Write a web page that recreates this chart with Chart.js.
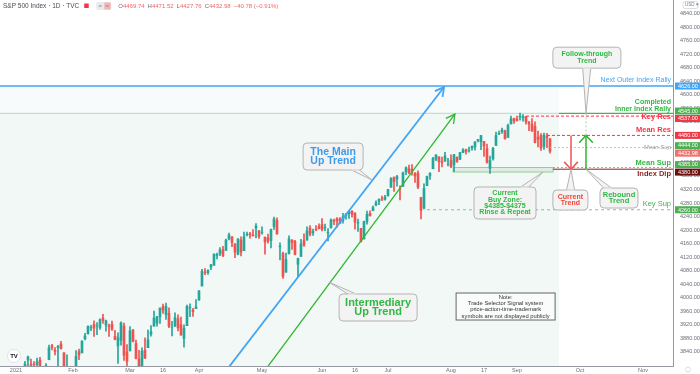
<!DOCTYPE html>
<html>
<head>
<meta charset="utf-8">
<script src="https://cdn.jsdelivr.net/npm/chart.js@4.4.1/dist/chart.umd.min.js"></script>
<style>
  html, body { margin:0; padding:0; background:#fff; }
  canvas { display:block; }
</style>
</head>
<body>
<canvas id="grafico" width="700" height="374"></canvas>
<script>
// S&P 500 Index, daily candles from 2021-01-04 to 2021-09-17 (x = trading day index)
var opens = [
  3764.6,3698.0,3712.2,3764.7,3815.1,3803.1,3801.6,3802.2,3815.0,3788.7,3781.9,3816.2,3857.5,3844.2,3851.7,3863.0,3836.8,3755.8,3778.1,
  3731.2,3791.8,3840.3,3836.7,3878.3,3892.6,3910.5,3920.8,3916.4,3911.7,3939.6,3918.5,3915.9,3921.2,3885.6,3857.1,3873.7,3915.8,3839.7,
  3842.5,3903.6,3864.0,3818.5,3793.6,3844.4,3851.9,3892.0,3915.5,3924.5,3943.0,3973.6,3949.6,3953.5,3913.1,3916.5,3937.6,3919.9,3879.3,3917.1,3969.3,3963.3,3967.3,
  3992.8,4034.4,4075.6,4074.3,4090.0,4096.1,4124.7,4130.1,4141.6,4139.8,4174.1,4179.8,4159.2,4128.4,4170.5,4138.8,4185.0,4188.3,4185.1,4206.1,4198.1,
  4192.0,4179.0,4177.1,4169.1,4210.3,4228.3,4150.3,4130.6,4075.0,4129.6,4169.9,4165.9,4098.5,4122.0,4168.6,4170.2,4205.9,4191.6,4201.9,4210.8,
  4216.5,4206.8,4191.4,4206.1,4229.3,4233.8,4233.0,4228.6,4242.9,4248.3,4255.3,4248.9,4220.4,4204.8,4173.4,4224.6,4249.3,4257.0,4274.5,4284.9,4293.2,4290.7,
  4300.7,4326.6,4356.5,4351.0,4321.1,4329.4,4372.4,4381.1,4380.1,4369.0,4367.4,4296.4,4265.1,4331.1,4361.3,4381.2,4409.6,4416.4,4403.0,4403.6,4395.1,
  4406.9,4392.7,4416.0,4408.9,4429.1,4437.8,4435.8,4442.2,4446.1,4464.8,4461.7,4462.1,4440.9,4382.4,4410.6,4450.3,4484.4,4490.5,4493.8,4474.1,4513.8,4529.8,
  4528.8,4534.5,4532.4,4535.4,4518.1,4513.0,4506.9,4474.8,4479.3,4447.5,4477.1,4469.74
];
var highs = [
  3770.0,3737.8,3783.0,3811.6,3826.7,3817.9,3810.8,3821.0,3823.6,3788.7,3804.5,3859.8,3861.5,3852.3,3859.2,3870.9,3836.8,3830.5,3778.1,
  3784.3,3843.1,3847.5,3872.4,3894.6,3915.8,3918.4,3931.5,3926.0,3937.2,3950.4,3933.6,3922.0,3930.4,3902.9,3896.0,3928.7,3925.0,3861.1,
  3914.5,3906.4,3874.5,3843.7,3851.7,3881.1,3903.8,3917.4,3960.3,3945.0,3970.1,3981.0,3983.9,3969.6,3930.1,3955.3,3949.1,3942.1,3919.5,3978.2,3981.8,3968.0,3994.4,
  4020.6,4083.4,4086.2,4083.1,4098.2,4129.5,4131.8,4148.0,4151.7,4173.5,4191.3,4180.8,4159.2,4175.0,4179.6,4194.2,4194.2,4193.4,4201.5,4218.8,4198.1,
  4209.4,4179.0,4187.7,4202.7,4238.0,4236.4,4162.0,4134.7,4131.6,4183.1,4171.9,4169.2,4116.9,4172.8,4188.7,4209.5,4213.4,4202.6,4213.4,4218.4,
  4234.1,4217.4,4204.4,4233.5,4232.3,4236.7,4237.1,4249.7,4248.4,4255.6,4257.2,4251.9,4232.3,4204.8,4226.2,4255.8,4256.6,4271.3,4286.1,4292.1,4300.5,4302.4,
  4320.7,4355.4,4356.5,4361.9,4330.9,4371.6,4386.7,4392.4,4393.7,4369.0,4375.1,4296.4,4336.8,4359.7,4369.9,4415.2,4422.7,4416.4,4415.5,4430.0,4412.3,
  4422.2,4423.8,4416.2,4429.8,4440.8,4439.4,4445.2,4449.4,4461.8,4468.4,4480.3,4462.1,4454.3,4418.6,4444.4,4489.9,4492.8,4501.7,4495.9,4513.3,4537.4,4531.4,
  4537.1,4545.9,4541.5,4535.4,4521.8,4529.9,4520.5,4493.0,4485.7,4486.9,4485.9,4471.52
];
var lows = [
  3662.7,3695.1,3705.3,3764.7,3783.6,3789.0,3776.5,3791.5,3792.9,3749.6,3780.4,3816.2,3845.1,3830.4,3797.2,3847.8,3732.5,3755.8,3694.1,
  3725.6,3791.8,3816.7,3836.7,3874.9,3892.6,3902.6,3884.9,3890.4,3905.8,3923.9,3900.4,3885.0,3903.1,3874.7,3805.6,3859.6,3814.0,3789.5,
  3842.5,3868.6,3818.9,3723.3,3730.2,3819.3,3851.9,3885.7,3915.5,3915.2,3923.5,3953.4,3935.7,3910.9,3886.8,3914.2,3901.6,3889.1,3853.5,3917.1,3943.3,3944.4,3967.0,
  3992.8,4034.4,4068.1,4068.3,4082.5,4095.5,4114.8,4124.4,4120.9,4139.8,4170.8,4150.5,4118.4,4126.4,4123.7,4138.8,4182.4,4176.2,4181.8,4176.8,4174.9,
  4188.0,4128.6,4160.9,4147.3,4201.6,4188.1,4111.5,4056.9,4075.0,4129.6,4142.7,4126.0,4061.4,4122.0,4151.7,4170.2,4182.5,4184.1,4197.8,4203.6,
  4197.6,4198.3,4167.9,4206.1,4215.7,4208.4,4218.7,4220.3,4232.3,4234.1,4238.4,4202.5,4196.1,4164.4,4173.4,4217.3,4241.4,4257.0,4271.2,4274.7,4287.0,4288.0,
  4300.7,4326.6,4314.4,4329.8,4289.4,4329.4,4364.0,4366.9,4362.4,4340.7,4322.5,4233.1,4262.1,4331.1,4350.1,4381.2,4405.5,4372.5,4387.0,4403.6,4389.7,
  4384.8,4373.0,4400.2,4408.9,4429.1,4424.7,4430.0,4436.4,4436.0,4460.8,4437.7,4417.8,4397.6,4367.7,4406.8,4450.3,4482.3,4485.7,4469.0,4474.1,4513.8,4515.8,
  4522.0,4524.7,4521.9,4513.0,4494.0,4492.1,4457.7,4445.7,4435.5,4438.4,4443.8,4427.76
];
var closes = [
  3700.7,3726.9,3748.1,3803.8,3824.7,3799.6,3801.2,3809.8,3795.5,3768.3,3798.9,3851.9,3853.1,3841.5,3855.4,3849.6,3750.8,3787.4,3714.2,
  3773.9,3826.3,3830.2,3871.7,3886.8,3915.6,3911.2,3909.9,3916.4,3934.8,3932.6,3931.3,3914.0,3906.7,3876.5,3881.4,3925.4,3829.3,3811.2,
  3901.8,3870.3,3819.7,3768.5,3841.9,3821.4,3875.4,3898.8,3939.3,3943.3,3968.9,3962.7,3974.1,3915.5,3913.1,3940.6,3910.5,3889.1,3909.5,3974.5,3971.1,3958.6,3972.9,
  4019.9,4077.9,4073.9,4080.0,4097.2,4128.8,4128.0,4141.6,4124.7,4170.4,4185.5,4163.3,4134.9,4173.4,4135.0,4180.2,4187.6,4186.7,4183.2,4211.5,4181.2,
  4192.7,4164.7,4167.6,4201.6,4232.6,4188.4,4152.1,4063.0,4112.5,4173.9,4163.3,4127.8,4115.7,4159.1,4155.9,4197.1,4188.1,4196.0,4200.9,4204.1,
  4202.0,4208.1,4192.9,4229.9,4226.5,4227.3,4219.6,4239.2,4247.4,4255.2,4246.6,4223.7,4221.9,4166.5,4224.8,4246.4,4241.8,4266.5,4280.7,4290.6,4291.8,4297.5,
  4319.9,4352.3,4343.5,4358.1,4320.8,4369.6,4384.6,4369.2,4374.3,4360.0,4327.2,4258.5,4323.1,4358.7,4367.5,4411.8,4422.3,4401.5,4400.6,4419.2,4395.3,
  4387.2,4423.2,4402.7,4429.1,4436.5,4432.4,4436.8,4447.7,4460.8,4468.0,4479.7,4448.1,4400.3,4405.8,4441.7,4479.5,4486.2,4496.2,4470.0,4509.4,4528.8,4522.7,
  4524.1,4537.0,4535.4,4520.0,4514.1,4493.3,4458.6,4468.7,4443.1,4480.7,4473.76,4432.98
];

// time axis labels (trading day index of each label)
var tickIdx  = [0, 19, 38, 49, 61, 82, 102, 113, 124, 145, 156, 167, 188, 209];
var tickText = ['2021','Feb','Mar','16','Apr','May','Jun','16','Jul','Aug','17','Sep','Oct','Nov'];
var priceTicks = [3840,3880,3920,3960,4000,4040,4080,4120,4160,4200,4240,4280,4320,4360,4400,
                  4440,4480,4520,4560,4600,4640,4680,4720,4760,4800,4840];

// drawn levels
var levelValues = [4626, 4545, 4537, 4480, 4444, 4385, 4380, 4260];
var levelNames  = [['Next Outer Index Rally'], ['Completed','Inner Index Rally'], ['Key Res'], ['Mean Res'],
                   ['Mean Sup'], ['Mean Sup'], ['Index Dip'], ['Key Sup']];
var buyZone = [4371.6, 4385];

// trend lines [index, price]
var mainTrend  = [[69.7, 3780], [142.7, 4623]];
var interTrend = [[82.6, 3780], [146.3, 4543]];

var FONT = '"Liberation Sans", Arial, sans-serif';
var UP = '#26a69a', DOWN = '#ef5350';

var wicks = [], bodies = [], colores = [];
for (var i = 0; i < closes.length; i++) {
  wicks.push({x: i, y: [lows[i], highs[i]]});
  bodies.push({x: i, y: [opens[i], closes[i]]});
  colores.push(closes[i] >= opens[i] ? UP : DOWN);
}

// styles for levels (same order as levelValues)
var levelStyle = [
  {from:-6,  color:'#42a5f5', lw:1.5, dash:[],    tc:'#42a5f5', font:'7px',          dy:-5.5, tag:'#42a5f5'},
  {from:181, color:'#4caf50', lw:1.2, dash:[],    tc:'#30b843', font:'bold 7px',     dy:-11.2, lh:6.4, tag:'#4caf50'},
  {from:170, color:'#f23645', lw:1,   dash:[3,2], tc:'#f23645', font:'bold 7.5px',   dy:0.5,  tag:'#f23645'},
  {from:177, color:'#f23645', lw:1,   dash:[3,2], tc:'#f23645', font:'bold 7.5px',   dy:-5.5, tag:'#f23645'},
  {from:178, color:'#a5d6a7', lw:1,   dash:[2,2], tc:'#9e9e9e', font:'italic 6px',   dy:0,    tag:'#4caf50'},
  {from:179, color:'#81c784', lw:1,   dash:[2,2], tc:'#30b843', font:'bold 7.5px',   dy:-5,   tag:'#4caf50'},
  {from:179, color:'#8b1e1e', lw:1,   dash:[],    tc:'#8b1e1e', font:'bold 7.5px',   dy:5,    tag:'#6d0f0f'},
  {from:137, color:'#81c784', lw:1,   dash:[3,3], tc:'#4caf50', font:'7.5px',        dy:-5.5, tag:'#4caf50'}
];

var callouts = [
  {x:190.3, y:4710,   w:68, h:21, tx:190,   ty:4545,   lines:['Follow-through','Trend'], color:'#30b843', size:7,    lh:6.7},
  {x:105.7, y:4417.5, w:60, h:27, tx:118.7, ty:4348,   lines:['The Main','Up Trend'],    color:'#3d9be9', size:10.5, lh:9.5},
  {x:120.7, y:3970.8, w:78, h:27, tx:104.3, ty:4046,   lines:['Intermediary','Up Trend'], color:'#30b843', size:11,  lh:9.5},
  {x:163,   y:4280,   w:62, h:32, tx:175.7, ty:4371.7, lines:['Current','Buy Zone:','$4385-$4375','Rinse & Repeat'], color:'#30b843', size:7, lh:6.3},
  {x:184.8, y:4288.8, w:35, h:20, tx:185,   ty:4380,   lines:['Current','Trend'],        color:'#f44336', size:7,    lh:6.3},
  {x:201,   y:4294.7, w:38, h:20, tx:190,   ty:4380,   lines:['Rebound','Trend'],        color:'#30b843', size:7.5,  lh:6.6}
];

function rrect(ctx, x, y, w, h, r) {
  ctx.beginPath();
  ctx.moveTo(x + r, y);
  ctx.lineTo(x + w - r, y); ctx.quadraticCurveTo(x + w, y, x + w, y + r);
  ctx.lineTo(x + w, y + h - r); ctx.quadraticCurveTo(x + w, y + h, x + w - r, y + h);
  ctx.lineTo(x + r, y + h); ctx.quadraticCurveTo(x, y + h, x, y + h - r);
  ctx.lineTo(x, y + r); ctx.quadraticCurveTo(x, y, x + r, y);
  ctx.closePath();
}

function arrowHead(ctx, x, y, ang, len, spread) {
  ctx.beginPath();
  ctx.moveTo(x + len * Math.cos(ang + Math.PI - spread), y + len * Math.sin(ang + Math.PI - spread));
  ctx.lineTo(x, y);
  ctx.lineTo(x + len * Math.cos(ang + Math.PI + spread), y + len * Math.sin(ang + Math.PI + spread));
  ctx.stroke();
}

var dibujos = {
  id: 'dibujos',
  beforeDatasetsDraw: function(chart) {
    var ctx = chart.ctx, a = chart.chartArea, X = chart.scales.x, Y = chart.scales.y;
    var xr = X.getPixelForValue(181);
    ctx.save();
    ctx.beginPath(); ctx.rect(a.left, a.top, a.right - a.left, a.bottom - a.top); ctx.clip();
    ctx.fillStyle = '#f8fbfc';
    ctx.fillRect(a.left, Y.getPixelForValue(levelValues[0]), xr - a.left, Y.getPixelForValue(levelValues[1]) - Y.getPixelForValue(levelValues[0]));
    ctx.fillStyle = '#f2f8f6';
    ctx.fillRect(a.left, Y.getPixelForValue(levelValues[1]), xr - a.left, a.bottom - Y.getPixelForValue(levelValues[1]));
    ctx.strokeStyle = '#c5e0c6'; ctx.lineWidth = 1.2;
    ctx.beginPath();
    ctx.moveTo(a.left, Y.getPixelForValue(levelValues[1])); ctx.lineTo(xr, Y.getPixelForValue(levelValues[1]));
    ctx.stroke();
    // buy zone
    var bx0 = X.getPixelForValue(145.7), bx1 = X.getPixelForValue(179);
    var by0 = Y.getPixelForValue(buyZone[1]), by1 = Y.getPixelForValue(buyZone[0]);
    ctx.fillStyle = 'rgba(220,228,222,0.7)';
    ctx.fillRect(bx0, by0, bx1 - bx0, by1 - by0);
    ctx.strokeStyle = '#8fd18f'; ctx.lineWidth = 1;
    ctx.strokeRect(bx0, by0, bx1 - bx0, by1 - by0);
    ctx.restore();
  },
  afterDatasetsDraw: function(chart) {
    var ctx = chart.ctx, a = chart.chartArea, X = chart.scales.x, Y = chart.scales.y;
    ctx.save();
    ctx.beginPath(); ctx.rect(a.left, a.top, a.right - a.left, a.bottom - a.top); ctx.clip();

    // horizontal levels with their texts
    levelValues.forEach(function(v, k) {
      var s = levelStyle[k], y = Y.getPixelForValue(v);
      ctx.strokeStyle = s.color; ctx.lineWidth = s.lw; ctx.setLineDash(s.dash);
      ctx.beginPath(); ctx.moveTo(Math.max(a.left, X.getPixelForValue(s.from)), y); ctx.lineTo(a.right, y); ctx.stroke();
      ctx.setLineDash([]);
      ctx.font = s.font + ' ' + FONT; ctx.fillStyle = s.tc;
      ctx.textAlign = 'right'; ctx.textBaseline = 'middle';
      levelNames[k].forEach(function(t, j) {
        ctx.fillText(t, a.right - 2, y + s.dy + j * (s.lh || 0));
      });
    });

    // arrowheads of the two trend lines
    [[mainTrend, '#42a5f5', 1.8], [interTrend, '#2eb82e', 1.3]].forEach(function(tl) {
      var p0 = tl[0][0], p1 = tl[0][1];
      var x0 = X.getPixelForValue(p0[0]), y0 = Y.getPixelForValue(p0[1]);
      var x1 = X.getPixelForValue(p1[0]), y1 = Y.getPixelForValue(p1[1]);
      ctx.strokeStyle = tl[1]; ctx.lineWidth = tl[2];
      arrowHead(ctx, x1, y1, Math.atan2(y1 - y0, x1 - x0), 10, 0.5);
    });

    // current trend (down) and rebound trend (up)
    var xr = X.getPixelForValue(185), xg = X.getPixelForValue(190);
    var yHi = Y.getPixelForValue(levelValues[3]), yLo = Y.getPixelForValue(levelValues[6]);
    var yTop = Y.getPixelForValue(levelValues[1]);
    ctx.lineWidth = 1.5;
    ctx.strokeStyle = '#ef5350';
    ctx.beginPath(); ctx.moveTo(xr, yHi); ctx.lineTo(xr, yLo); ctx.stroke();
    arrowHead(ctx, xr, yLo, Math.PI / 2, 10, 0.75);
    ctx.strokeStyle = '#2eb82e';
    ctx.beginPath(); ctx.moveTo(xg, yLo); ctx.lineTo(xg, yHi); ctx.stroke();
    arrowHead(ctx, xg, yHi, -Math.PI / 2, 10, 0.75);
    ctx.strokeStyle = '#a5d6a7'; ctx.lineWidth = 1; ctx.setLineDash([2, 2]);
    ctx.beginPath(); ctx.moveTo(xg, yHi); ctx.lineTo(xg, yTop); ctx.stroke();
    ctx.setLineDash([]);

    // callouts
    callouts.forEach(function(c) {
      var cx = X.getPixelForValue(c.x), cy = Y.getPixelForValue(c.y);
      var tx = X.getPixelForValue(c.tx), ty = Y.getPixelForValue(c.ty);
      var bx = cx - c.w / 2, by = cy - c.h / 2;
      var dx = tx - cx, dy = ty - cy, b1, b2;
      if (Math.abs(dy) / (c.h / 2) > Math.abs(dx) / (c.w / 2)) {
        var ey = dy > 0 ? by + c.h : by;
        var ex = cx + dx * (c.h / 2) / Math.abs(dy);
        ex = Math.min(Math.max(ex, bx + 7), bx + c.w - 7);
        b1 = [ex - 4, ey]; b2 = [ex + 4, ey];
      } else {
        var ex2 = dx > 0 ? bx + c.w : bx;
        var ey2 = cy + dy * (c.w / 2) / Math.abs(dx);
        ey2 = Math.min(Math.max(ey2, by + 5), by + c.h - 5);
        b1 = [ex2, ey2 - 4]; b2 = [ex2, ey2 + 4];
      }
      ctx.fillStyle = '#f3f3f3'; ctx.strokeStyle = '#b4b4b4'; ctx.lineWidth = 1;
      ctx.beginPath(); ctx.moveTo(b1[0], b1[1]); ctx.lineTo(tx, ty); ctx.lineTo(b2[0], b2[1]); ctx.closePath();
      ctx.fill(); ctx.stroke();
      rrect(ctx, bx, by, c.w, c.h, 4);
      ctx.fill(); ctx.stroke();
      ctx.beginPath(); ctx.moveTo(b1[0], b1[1]); ctx.lineTo(b2[0], b2[1]);
      ctx.strokeStyle = '#f3f3f3'; ctx.stroke();
      ctx.fillStyle = c.color; ctx.font = 'bold ' + c.size + 'px ' + FONT;
      ctx.textAlign = 'center'; ctx.textBaseline = 'middle';
      c.lines.forEach(function(t, j) {
        ctx.fillText(t, cx, cy + (j - (c.lines.length - 1) / 2) * c.lh);
      });
    });

    // note box
    var nx = X.getPixelForValue(163.2), ny = Y.getPixelForValue(3973.7);
    ctx.fillStyle = 'rgba(255,255,255,0.5)'; ctx.strokeStyle = '#666'; ctx.lineWidth = 1;
    ctx.fillRect(nx - 49.5, ny - 13.5, 99, 27); ctx.strokeRect(nx - 49.5, ny - 13.5, 99, 27);
    var nota = ['Note:', 'Trade Selector Signal system', 'price-action-time-trademark', 'symbols are not displayed publicly'];
    ctx.fillStyle = '#333'; ctx.font = '5.8px ' + FONT; ctx.textAlign = 'center'; ctx.textBaseline = 'middle';
    nota.forEach(function(t, j) { ctx.fillText(t, nx, ny - 9.5 + j * 6.3); });

    // TradingView logo
    ctx.fillStyle = '#fff'; ctx.strokeStyle = '#e0e3eb';
    ctx.beginPath(); ctx.arc(a.left + 14, a.bottom - 10, 6.5, 0, Math.PI * 2); ctx.fill(); ctx.stroke();
    ctx.fillStyle = '#131722'; ctx.font = 'bold 6px ' + FONT;
    ctx.fillText('TV', a.left + 14, a.bottom - 10);
    ctx.restore();
  },
  afterDraw: function(chart) {
    var ctx = chart.ctx, a = chart.chartArea, Y = chart.scales.y;
    ctx.save();
    // price tags on the axis
    var tags = levelValues.map(function(v, k) { return {v: v, y: Y.getPixelForValue(v), c: levelStyle[k].tag}; });
    var last = closes[closes.length - 1];
    tags.push({v: last, y: Y.getPixelForValue(last), c: '#f07171'});
    tags.sort(function(p, q) { return p.y - q.y; });
    var h = 7.5, groups = tags.map(function(t) { return {items: [t], c: t.y}; });
    var changed = true;
    while (changed) {
      changed = false;
      for (var g = 1; g < groups.length; g++) {
        var A = groups[g - 1], B = groups[g];
        if (B.c - B.items.length * h / 2 < A.c + A.items.length * h / 2) {
          var its = A.items.concat(B.items);
          var m = its.reduce(function(s, t) { return s + t.y; }, 0) / its.length;
          groups.splice(g - 1, 2, {items: its, c: m});
          changed = true; break;
        }
      }
    }
    ctx.font = '5.5px ' + FONT; ctx.textAlign = 'left'; ctx.textBaseline = 'middle';
    groups.forEach(function(gr) {
      var n = gr.items.length;
      gr.items.forEach(function(t, k) {
        var ly = gr.c + (k - (n - 1) / 2) * h;
        ctx.fillStyle = t.c;
        ctx.fillRect(a.right + 2, ly - 3.5, 25, 7);
        ctx.fillStyle = '#fff';
        ctx.fillText(t.v.toFixed(2), a.right + 5, ly + 0.3);
      });
    });

    // USD button and settings
    ctx.strokeStyle = '#d1d4dc'; ctx.lineWidth = 0.8;
    rrect(ctx, a.right + 10, 1.5, 15, 7, 2); ctx.stroke();
    ctx.fillStyle = '#787b86'; ctx.font = '4.5px ' + FONT;
    ctx.fillText('USD \u25BE', a.right + 12, 5.2);
    ctx.beginPath(); ctx.arc(a.right + 15, 369.5, 2.5, 0, Math.PI * 2); ctx.stroke();

    // header
    ctx.textBaseline = 'middle'; ctx.font = '6.5px ' + FONT;
    ctx.fillStyle = '#4a4d57';
    var hx = 3;
    ctx.fillText('S&P 500 Index \u00B7 1D \u00B7 TVC', hx, 6);
    hx += ctx.measureText('S&P 500 Index \u00B7 1D \u00B7 TVC').width + 5;
    ctx.fillStyle = '#f23645'; ctx.fillRect(hx, 3.5, 4.5, 4.5);
    hx += 12;
    ctx.fillStyle = '#e9eaee'; rrect(ctx, hx, 2, 15, 8, 2); ctx.fill();
    ctx.fillStyle = '#f7b4b4'; ctx.fillRect(hx + 8, 2.5, 6.5, 7);
    ctx.fillStyle = '#8a8d96'; ctx.fillRect(hx + 2.5, 5.5, 3, 1); ctx.fillRect(hx + 9.5, 5.5, 3, 1);
    hx += 22;
    var n = closes.length - 1, chg = closes[n] - closes[n - 1];
    var parts = [['O', opens[n].toFixed(2)], ['H', highs[n].toFixed(2)], ['L', lows[n].toFixed(2)], ['C', closes[n].toFixed(2)]];
    ctx.font = '6px ' + FONT;
    parts.forEach(function(p) {
      ctx.fillStyle = '#6a6d78'; ctx.fillText(p[0], hx, 6); hx += ctx.measureText(p[0]).width;
      ctx.fillStyle = '#f0676a'; ctx.fillText(p[1], hx, 6); hx += ctx.measureText(p[1]).width + 3;
    });
    var ct = '\u2212' + Math.abs(chg).toFixed(2) + ' (\u2212' + Math.abs(chg / closes[n - 1] * 100).toFixed(2) + '%)';
    ctx.fillText(ct, hx, 6);
    ctx.restore();
  }
};

var graphTarget = document.getElementById('grafico');
var grafico = new Chart(graphTarget, {
  type: 'bar',
  data: {
    datasets: [
      {type: 'line', label: 'Main Up Trend', data: mainTrend.map(function(p) { return {x: p[0], y: p[1]}; }),
       borderColor: '#42a5f5', borderWidth: 1.8, pointRadius: 0, pointHoverRadius: 0, pointHitRadius: 0, fill: false, order: 1},
      {type: 'line', label: 'Intermediary Up Trend', data: interTrend.map(function(p) { return {x: p[0], y: p[1]}; }),
       borderColor: '#2eb82e', borderWidth: 1.3, pointRadius: 0, pointHoverRadius: 0, pointHitRadius: 0, fill: false, order: 1},
      {label: 'body', data: bodies, backgroundColor: colores, barThickness: 2, grouped: false, borderWidth: 0, order: 2},
      {label: 'wick', data: wicks, backgroundColor: colores, barThickness: 1, grouped: false, borderWidth: 0, order: 3}
    ]
  },
  options: {
    responsive: false,
    maintainAspectRatio: false,
    animation: false,
    devicePixelRatio: 1,
    layout: {padding: 0, autoPadding: false},
    plugins: {legend: {display: false}, tooltip: {enabled: false}},
    scales: {
      x: {
        type: 'linear', min: -5.33, max: 219, offset: false,
        grid: {display: false, drawTicks: false},
        border: {display: true, color: '#9598a1'},
        ticks: {autoSkip: false, maxRotation: 0, padding: 1.5, color: '#6a6d78', font: {size: 5.5, family: FONT, lineHeight: 1},
                callback: function(v, i) { return tickText[i]; }},
        afterBuildTicks: function(s) { s.ticks = tickIdx.map(function(v) { return {value: v}; }); },
        afterFit: function(s) { s.height = 8; }
      },
      y: {
        position: 'right', min: 3797.7, max: 4880.6,
        grid: {display: false, drawTicks: false},
        border: {display: true, color: '#9598a1'},
        ticks: {padding: 7, color: '#6a6d78', font: {size: 5.5, family: FONT, lineHeight: 0},
                callback: function(v) { return Number(v).toFixed(2); }},
        afterBuildTicks: function(s) { s.ticks = priceTicks.map(function(v) { return {value: v}; }); },
        afterFit: function(s) { s.width = 27; s.paddingTop = 0; s.paddingBottom = 0; }
      }
    }
  },
  plugins: [dibujos]
});
</script>
</body>
</html>
